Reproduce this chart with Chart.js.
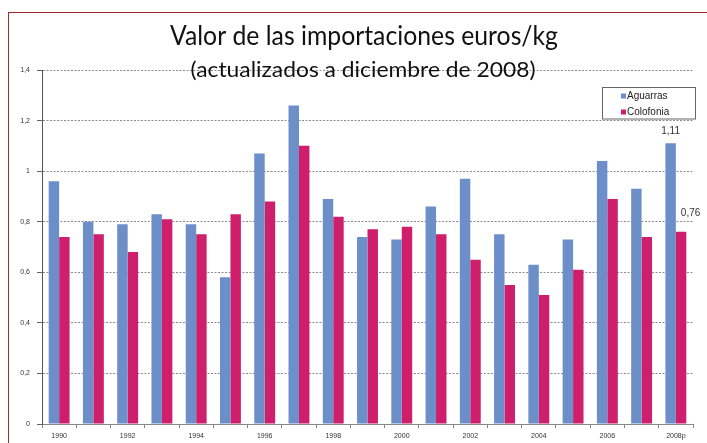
<!DOCTYPE html>
<html><head><meta charset="utf-8">
<script src="https://cdn.jsdelivr.net/npm/chart.js@4"></script>
<style>
html,body{margin:0;padding:0;background:#fff;overflow:hidden}
#wrap{position:relative;width:707px;height:443px;overflow:hidden}
#frame{position:absolute;left:8px;top:12px;width:760px;height:480px;border-left:1.5px solid #a8282c;border-top:1.5px solid #a8282c}
canvas{position:absolute;left:0;top:0}
</style></head>
<body><div id="wrap"><div id="frame"></div><canvas id="c" width="707" height="443"></canvas></div>
<script>
const categories = ['1990','1991','1992','1993','1994','1995','1996','1997','1998','1999','2000','2001','2002','2003','2004','2005','2006','2007','2008p'];
const aguarras  = [0.96,0.80,0.79,0.83,0.79,0.58,1.07,1.26,0.89,0.74,0.73,0.86,0.97,0.75,0.63,0.73,1.04,0.93,1.11];
const colofonia = [0.74,0.75,0.68,0.81,0.75,0.83,0.88,1.10,0.82,0.77,0.78,0.75,0.65,0.55,0.51,0.61,0.89,0.74,0.76];
const seriesNames = ['Aguarras','Colofonia'];
const seriesColors = ['#6c8ec9','#cf1e6b'];
const titleText = 'Valor de las importaciones euros/kg';
const subtitleText = '(actualizados a diciembre de 2008)';
const fmt = v => String(Math.round(v*100)/100).replace('.', ',');

function drawFitted(ctx, text, cx, baseline, size, targetW){
  ctx.save();
  ctx.font = size + 'px Lato';
  const w = ctx.measureText(text).width;
  const sx = targetW / w;
  ctx.translate(cx, baseline);
  ctx.scale(sx, 1);
  ctx.textAlign = 'center';
  ctx.textBaseline = 'alphabetic';
  ctx.fillStyle = '#111';
  ctx.fillText(text, 0, 0);
  ctx.restore();
}

const titlePlugin = {
  id: 'titles',
  afterDraw(chart){
    const ctx = chart.ctx;
    drawFitted(ctx, titleText, 364, 45, 26, 388);
    drawFitted(ctx, subtitleText, 363, 77, 21, 345);
  }
};

const legendPlugin = {
  id: 'boxLegend',
  afterDraw(chart){
    const ctx = chart.ctx;
    ctx.save();
    ctx.fillStyle = '#fff';
    ctx.fillRect(602, 87.5, 93, 31.5);
    ctx.strokeStyle = '#666';
    ctx.lineWidth = 1;
    ctx.strokeRect(602.5, 87.5, 93, 31.5);
    ctx.font = '10px "Liberation Sans"';
    ctx.textBaseline = 'middle';
    ctx.textAlign = 'left';
    chart.data.datasets.forEach((ds, i) => {
      const y = 96 + i*16;
      ctx.fillStyle = ds.backgroundColor;
      ctx.fillRect(621, y-2.5, 5, 5);
      ctx.fillStyle = '#222';
      ctx.fillText(ds.label, 627, y+0.5);
    });
    ctx.restore();
  }
};

const valueLabelPlugin = {
  id: 'lastValues',
  afterDatasetsDraw(chart){
    const ctx = chart.ctx;
    ctx.save();
    ctx.font = '10px "Liberation Sans"';
    ctx.fillStyle = '#333';
    ctx.textBaseline = 'middle';
    ctx.textAlign = 'center';
    const last = categories.length - 1;
    const m0 = chart.getDatasetMeta(0).data[last];
    ctx.fillText(fmt(aguarras[last]), m0.x, m0.y - 12);
    const m1 = chart.getDatasetMeta(1).data[last];
    ctx.fillText(fmt(colofonia[last]), m1.x + 9.5, m1.y - 19);
    ctx.restore();
  }
};

new Chart(document.getElementById('c'), {
  type: 'bar',
  data: {
    labels: categories,
    datasets: [
      {label: seriesNames[0], data: aguarras, backgroundColor: seriesColors[0], borderWidth: 0, categoryPercentage: 0.61, barPercentage: 1.0},
      {label: seriesNames[1], data: colofonia, backgroundColor: seriesColors[1], borderWidth: 0, categoryPercentage: 0.61, barPercentage: 1.0}
    ]
  },
  options: {
    responsive: false,
    animation: false,
    devicePixelRatio: 1,
    layout: {padding: {top: 70, right: 14, left: 0, bottom: 0}},
    plugins: {legend: {display: false}, title: {display: false}, tooltip: {enabled: false}},
    scales: {
      x: {
        grid: {display: true, drawOnChartArea: false, drawTicks: true, tickLength: 4, color: '#888', offset: true},
        border: {display: true, color: '#888', width: 1},
        ticks: {autoSkip: false, maxRotation: 0, minRotation: 0, padding: 4, color: '#333',
          font: {family: '"Liberation Sans"', size: 7},
          callback: (v, i) => (i % 2 === 0 ? categories[i] : '')},
        afterFit: s => { s.height = 19; }
      },
      y: {
        min: 0, max: 1.4,
        grid: {display: true, color: '#8c8c8c', lineWidth: 1, drawTicks: true, tickLength: 5, tickColor: '#666'},
        border: {display: true, color: '#555', width: 1, dash: [2, 1.5]},
        ticks: {stepSize: 0.2, padding: 7, color: '#333', font: {family: '"Liberation Sans"', size: 7},
          callback: v => fmt(v)},
        afterFit: s => { s.width = 42; }
      }
    }
  },
  plugins: [valueLabelPlugin, legendPlugin, titlePlugin]
});
</script>
</body></html>
